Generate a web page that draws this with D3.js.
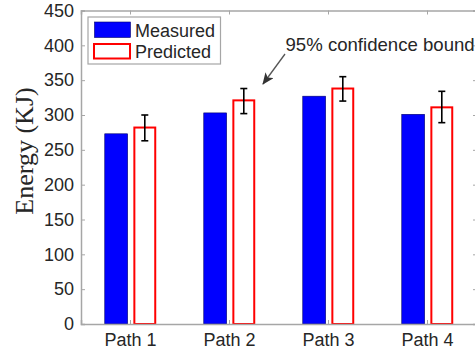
<!DOCTYPE html>
<html>
<head>
<meta charset="utf-8">
<script src="https://cdn.jsdelivr.net/npm/d3@7/dist/d3.min.js"></script>
<style>
html,body{margin:0;padding:0;background:#fff;overflow:hidden;}
svg{display:block;}
</style>
</head>
<body>
<script>
const categories = ["Path 1", "Path 2", "Path 3", "Path 4"];
const series = ["Measured", "Predicted"];
const measured = [273, 303, 327, 301];
const predicted = [282, 321, 338, 311];
const predictedLow = [263, 302, 320, 289];
const predictedHigh = [300, 338, 355, 334];
const yTicks = [0, 50, 100, 150, 200, 250, 300, 350, 400, 450];
const yLabel = "Energy (KJ)";
const annotation = "95% confidence bound";

(function () {
const W = 475, H = 351;
const svg = d3.select("body").append("svg").attr("width", W).attr("height", H);

const mLeft = 81, mRight = 477, mTop = 10.5, mBottom = 324;
const x = d3.scaleBand().domain(categories).range([mLeft, mRight]).padding(0);
const xs = d3.scaleBand().domain(series)
  .range([x.bandwidth() * 0.24, x.bandwidth() * 0.76]).paddingInner(0.2).paddingOuter(0);
const y = d3.scaleLinear().domain([0, 450]).range([mBottom, mTop]);

const axisColor = "#a6a6a6";
const textColor = "#262626";
const font = "'Liberation Sans', Arial, Helvetica, sans-serif";

const g = svg.append("g");
const data = categories.map((c, i) => ({c, m: measured[i], p: predicted[i], lo: predictedLow[i], hi: predictedHigh[i]}));

g.selectAll("rect.meas").data(data).enter().append("rect")
  .attr("class", "meas")
  .attr("x", d => x(d.c) + xs("Measured"))
  .attr("width", xs.bandwidth())
  .attr("y", d => y(d.m))
  .attr("height", d => y(0) - y(d.m))
  .attr("fill", "#0000ff")
  .attr("stroke", "#00006a")
  .attr("stroke-width", 0.6);

g.selectAll("rect.pred").data(data).enter().append("rect")
  .attr("class", "pred")
  .attr("x", d => x(d.c) + xs("Predicted") + 1)
  .attr("width", xs.bandwidth() - 2)
  .attr("y", d => y(d.p))
  .attr("height", d => y(0) - y(d.p))
  .attr("fill", "#ffffff")
  .attr("stroke", "#ff0000")
  .attr("stroke-width", 2);

const eb = g.selectAll("g.err").data(data).enter().append("g")
  .attr("transform", d => `translate(${x(d.c) + xs("Predicted") + xs.bandwidth() / 2},0)`)
  .attr("stroke", "#000").attr("stroke-width", 1.6);
eb.append("line").attr("x1", 0).attr("x2", 0).attr("y1", d => y(d.lo)).attr("y2", d => y(d.hi));
eb.append("line").attr("x1", -3.5).attr("x2", 3.5).attr("y1", d => y(d.lo)).attr("y2", d => y(d.lo));
eb.append("line").attr("x1", -3.5).attr("x2", 3.5).attr("y1", d => y(d.hi)).attr("y2", d => y(d.hi));

const yAxis = d3.axisLeft(y).tickValues(yTicks).tickSize(-4).tickPadding(7);
const ya = svg.append("g").attr("transform", `translate(${mLeft},0)`).call(yAxis);
ya.select(".domain").attr("stroke", axisColor).attr("stroke-width", 1.5);
ya.selectAll(".tick line").attr("stroke", axisColor);
ya.selectAll(".tick text").attr("font-family", font).attr("font-size", 18).attr("fill", textColor);

const yAxisR = d3.axisRight(y).tickValues(yTicks).tickSize(-4).tickFormat("");
const yr = svg.append("g").attr("transform", `translate(${mRight},0)`).call(yAxisR);
yr.select(".domain").attr("stroke", axisColor).attr("stroke-width", 1.5);
yr.selectAll(".tick line").attr("stroke", axisColor);

const xAxis = d3.axisBottom(x).tickSize(-4).tickPadding(9);
const xa = svg.append("g").attr("transform", `translate(0,${mBottom})`).call(xAxis);
xa.select(".domain").attr("stroke", axisColor).attr("stroke-width", 1.5);
xa.selectAll(".tick line").attr("stroke", axisColor);
xa.selectAll(".tick text").attr("font-family", font).attr("font-size", 18).attr("fill", textColor);

const xAxisT = d3.axisTop(x).tickSize(-4).tickFormat("");
const xt = svg.append("g").attr("transform", `translate(0,${mTop})`).call(xAxisT);
xt.select(".domain").attr("stroke", axisColor).attr("stroke-width", 1.5);
xt.selectAll(".tick line").attr("stroke", axisColor);

svg.append("text")
  .attr("transform", "translate(33,151) rotate(-90)")
  .attr("text-anchor", "middle")
  .attr("font-family", "'Liberation Serif', 'Times New Roman', serif")
  .attr("font-size", 26)
  .attr("fill", textColor)
  .text(yLabel);

const lg = svg.append("g");
lg.append("rect").attr("x", 88).attr("y", 17).attr("width", 132.5).attr("height", 47)
  .attr("fill", "#fff").attr("stroke", axisColor).attr("stroke-width", 1.2);
lg.append("rect").attr("x", 94.5).attr("y", 22).attr("width", 36).attr("height", 15.5)
  .attr("fill", "#0000ff").attr("stroke", "#00006a").attr("stroke-width", 0.6);
lg.append("rect").attr("x", 94).attr("y", 44).attr("width", 36).attr("height", 14.5)
  .attr("fill", "#fff").attr("stroke", "#ff0000").attr("stroke-width", 2);
lg.selectAll("text.leg").data(series).enter().append("text")
  .attr("x", 135).attr("y", (d, i) => 36.5 + i * 21.5)
  .attr("font-family", font).attr("font-size", 18).attr("fill", textColor)
  .text(d => d);

svg.append("text").attr("x", 285.5).attr("y", 50.5)
  .attr("font-family", font).attr("font-size", 18.6).attr("fill", textColor)
  .text(annotation);

const defs = svg.append("defs");
defs.append("marker").attr("id", "ah").attr("viewBox", "0 0 12 10")
  .attr("refX", 11).attr("refY", 5).attr("markerWidth", 12).attr("markerHeight", 10)
  .attr("markerUnits", "userSpaceOnUse").attr("orient", "auto")
  .append("path").attr("d", "M0,0 L12,5 L0,10 L3,5 Z").attr("fill", "#333");
svg.append("line").attr("x1", 285).attr("y1", 54).attr("x2", 263).attr("y2", 84)
  .attr("stroke", "#555").attr("stroke-width", 1.3).attr("marker-end", "url(#ah)");
})();
</script>
</body>
</html>
